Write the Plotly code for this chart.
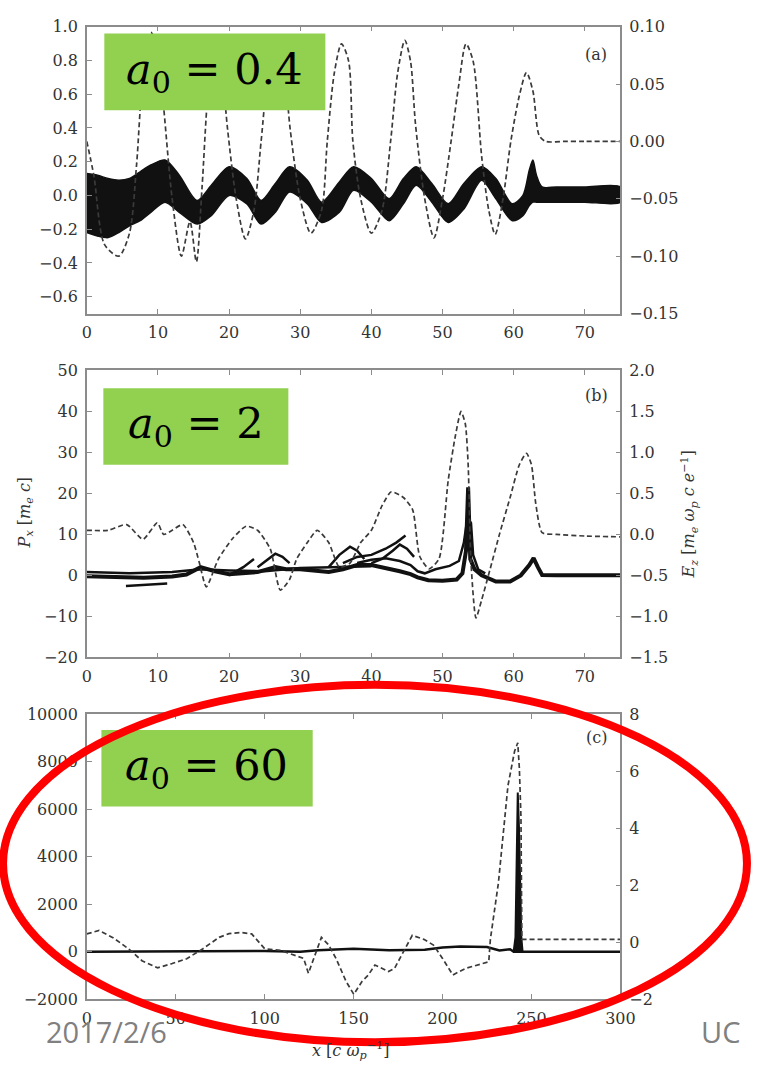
import plotly.graph_objects as go

W, H = 761, 1073

# ---------------- Panel (a): a0 = 0.4 ----------------
a_band_x = [0, 1.5, 3, 4.5, 6, 7.5, 9, 11, 13, 15.5, 17.5, 20, 22.5, 24.5, 26.5, 28.5, 31, 33, 35.5,
            37.5, 40, 42.5, 44.5, 46.3, 48.5, 50.8, 53, 55.5, 57.5, 59.8, 61.3, 62.2, 62.7, 63.2, 64, 66, 70, 75]
a_band_hi = [0.13, 0.12, 0.10, 0.09, 0.10, 0.14, 0.18, 0.21, 0.12, -0.03, 0.06, 0.17, 0.10, -0.03, 0.07,
             0.17, 0.09, -0.04, 0.08, 0.17, 0.10, -0.02, 0.10, 0.17, 0.07, -0.05, 0.07, 0.17, 0.10, -0.05,
             0.0, 0.15, 0.21, 0.12, 0.05, 0.05, 0.05, 0.05]
a_band_lo = [-0.22, -0.24, -0.25, -0.22, -0.18, -0.15, -0.10, -0.04, -0.10, -0.17, -0.12, 0.00, -0.05,
             -0.17, -0.10, 0.02, -0.05, -0.16, -0.10, 0.03, -0.04, -0.15, -0.05, 0.06, -0.04, -0.16, -0.08,
             0.09, -0.02, -0.15, -0.12, -0.06, -0.04, -0.04, -0.04, -0.04, -0.04, -0.04]
a_ez_x = [0, 1, 2.5, 4.5, 6, 7, 7.8, 9, 10, 10.8, 12, 13.3, 14.5, 15.4, 16.2, 17, 18, 19, 19.8, 21, 22.3,
          23.5, 24.5, 25.5, 26.7, 27.8, 28.6, 30, 31.5, 33, 33.8, 34.8, 35.8, 36.8, 37.4, 38.5, 40, 41.5,
          42.7, 43.7, 44.7, 45.5, 46.2, 47.5, 48.8, 50, 51.2, 52.3, 53.3, 54.3, 55.5, 56.5, 57.4, 58.5,
          59.6, 60.8, 61.8, 62.7, 63.6, 64.5, 67, 70, 75]
a_ez_y = [0.0, -0.03, -0.09, -0.10, -0.08, -0.02, 0.05, 0.095, 0.08, 0.03, -0.05, -0.10, -0.07, -0.105,
          -0.04, 0.04, 0.09, 0.06, 0.01, -0.05, -0.085, -0.06, 0.0, 0.06, 0.09, 0.06, 0.01, -0.05, -0.08,
          -0.06, 0.0, 0.06, 0.085, 0.07, 0.0, -0.05, -0.08, -0.06, 0.0, 0.06, 0.088, 0.07, 0.015, -0.05,
          -0.084, -0.05, 0.0, 0.05, 0.085, 0.07, -0.013, -0.06, -0.081, -0.05, 0.0, 0.04, 0.06, 0.044,
          0.005, 0.0, 0.0, 0.0, 0.0]

# ---------------- Panel (b): a0 = 2 ----------------
b_ez_x = [0, 3, 5.6, 7.9, 9.9, 10.8, 12, 13.5, 15, 15.8, 16.8, 18.5, 20.5, 22.4, 24, 25.8, 27.2, 28.5,
          29.5, 31, 32.4, 34, 35.5, 37, 38.5, 40, 41.5, 42.8, 44.5, 45.8, 46.8, 48.1, 49.5, 50.8, 51.8,
          52.6, 53.2, 53.6, 54, 54.7, 55.5, 56.7, 58, 59.5, 60.8, 61.8, 62.5, 63.1, 64, 66, 70, 75]
b_ez_y = [0.05, 0.05, 0.12, -0.06, 0.14, 0.0, 0.05, 0.12, -0.1, -0.34, -0.64, -0.3, -0.05, 0.1, 0.05,
          -0.18, -0.68, -0.55, -0.3, -0.1, 0.05, -0.1, -0.4, -0.35, -0.1, 0.05, 0.35, 0.52, 0.45, 0.3,
          -0.27, -0.42, -0.3, 0.66, 1.2, 1.5, 1.35, 0.86, -0.34, -1.02, -0.8, -0.42, 0.0, 0.45, 0.85, 0.99,
          0.85, 0.38, 0.02, 0.0, -0.02, -0.03]
b_base_x = [0, 4, 8, 12, 14, 16, 18, 20, 22, 24, 26.5, 28, 30, 32, 34, 36, 38, 40, 42, 44, 45.5, 46.5,
            48, 50, 52, 52.8, 53.3, 53.6, 53.9, 54.5, 55.5, 57.5, 59.5, 61, 62.2, 62.8, 63.4, 64, 66, 75]
b_base_y = [-0.2, -0.5, -0.6, -0.3, 0.2, 2.0, 1.0, 0.3, 0.5, 0.8, 2.0, 1.5, 1.5, 1.2, 0.8, 1.5, 2.5,
            2.5, 1.8, 1.0, 0.3, -0.5, -1.2, -1.3, -1.0, 0.5, 6.0, 21.5, 4.0, 1.5, 0.0, -1.5, -1.5, 0.0,
            2.5, 4.2, 2.0, 0.1, 0.0, 0.0]
b_loop_x = [38, 40, 42, 44, 45.5, 46.5, 47.5, 49, 51, 52.3, 53, 53.5, 54, 54.3, 55, 56]
b_loop_y = [3, 3.8, 4.2, 3.5, 2.5, 1.0, 0.5, 1.5, 2.3, 3.5, 8, 14, 12.8, 5, 1.5, 0.5]
b_fan1_x = [36, 38, 40, 42, 43.5, 44.8]
b_fan1_y = [3, 4.5, 5, 6.5, 8, 9.7]
b_fan2_x = [34, 35.5, 37, 38, 39]
b_fan2_y = [2, 5, 7, 6, 4]
b_fan3_x = [40, 41.5, 43, 44, 45, 46]
b_fan3_y = [3, 4, 6, 7.5, 6.5, 4.5]
b_low_x = [5.5, 8, 11.3]
b_low_y = [-2.6, -2.4, -2.0]
b_hump1_x = [20, 22, 23.5]
b_hump1_y = [0, 2, 4]
b_hump2_x = [24, 25.5, 26.5, 27.5, 28.5]
b_hump2_y = [2, 4, 5.3, 4.5, 3]
b_upper_x = [0, 6, 12, 16, 20, 25, 30, 35, 40]
b_upper_y = [0.8, 0.5, 0.8, 1.5, 1.2, 1.0, 1.8, 2.0, 2.2]

# ---------------- Panel (c): a0 = 60 ----------------
c_ez_x = [0, 6.9, 15, 23.4, 31, 39.8, 48, 56.2, 65.3, 74.4, 80, 87.2, 92.7, 100, 109, 116, 121.9, 124.6,
          128, 131.9, 136, 140.1, 145.8, 150.1, 154.7, 158.3, 162, 169.6, 173, 180, 183, 189.5, 194.9,
          200, 205.8, 213, 226, 226.9, 231.4, 236.8, 240.5, 242.3, 243.2, 244.1, 244.6, 250, 260, 280, 300]
c_ez_y = [0.29, 0.41, 0.15, -0.23, -0.65, -0.9, -0.75, -0.58, -0.23, 0.17, 0.3, 0.34, 0.29, -0.23, -0.29,
          -0.45, -0.57, -1.09, -0.5, 0.17, -0.1, -0.57, -1.38, -1.83, -1.38, -1.15, -0.8, -1.03, -0.92,
          -0.1, 0.24, 0.1, -0.1, -0.57, -1.15, -0.92, -0.69, 0.1, 2.07, 5.5, 6.7, 7.0, 6.1, 4.4, 0.1, 0.1,
          0.1, 0.1, 0.1]
c_px_x = [0, 50, 100, 120, 130, 150, 170, 190, 200, 210, 225, 232, 238, 240, 300]
c_px_y = [0, 20, 30, 0, 60, 120, 60, 80, 180, 220, 200, 50, 100, 0, 0]
c_spike_x = [240, 241, 241.6, 242.3, 243, 243.6, 244.3, 245]
c_spike_y = [0, 600, 3400, 6700, 5200, 2500, 600, 0]

# ---------------- layout helpers ----------------
def px(x):
    return x / W


def py(y):
    return 1 - y / H


XDOM = [px(84), px(632)]
DOM_A = [py(310), py(18)]
DOM_B = [py(660), py(368)]
DOM_C = [py(1008), py(718)]

AX_COLOR = "#8c8c8c"
TICKFONT = dict(family="DejaVu Serif", size=16, color="#333333")
DASH_COLOR = "#3a3a3a"
DASH = "5px,3px"

fig = go.Figure()

# Panel a traces
fig.add_trace(go.Scatter(x=a_ez_x, y=a_ez_y, xaxis="x", yaxis="y2", mode="lines",
                         line=dict(color=DASH_COLOR, width=1.7, dash=DASH, shape="spline", smoothing=0.8)))
fig.add_trace(go.Scatter(x=a_band_x + a_band_x[::-1], y=a_band_hi + a_band_lo[::-1],
                         xaxis="x", yaxis="y", mode="lines", fill="toself",
                         fillcolor="#111111", line=dict(color="#111111", width=1.5, shape="spline",
                                                        smoothing=0.8)))

# Panel b traces
fig.add_trace(go.Scatter(x=b_ez_x, y=b_ez_y, xaxis="x2", yaxis="y4", mode="lines",
                         line=dict(color=DASH_COLOR, width=1.7, dash=DASH, shape="spline", smoothing=0.6)))
fig.add_trace(go.Scatter(x=b_base_x, y=b_base_y, xaxis="x2", yaxis="y3", mode="lines",
                         line=dict(color="#111111", width=4)))
for xs, ys in [(b_loop_x, b_loop_y), (b_fan1_x, b_fan1_y), (b_fan2_x, b_fan2_y),
               (b_fan3_x, b_fan3_y), (b_low_x, b_low_y), (b_hump1_x, b_hump1_y),
               (b_hump2_x, b_hump2_y), (b_upper_x, b_upper_y)]:
    fig.add_trace(go.Scatter(x=xs, y=ys, xaxis="x2", yaxis="y3", mode="lines",
                             line=dict(color="#111111", width=2.5)))

# Panel c traces
fig.add_trace(go.Scatter(x=c_ez_x, y=c_ez_y, xaxis="x3", yaxis="y6", mode="lines",
                         line=dict(color=DASH_COLOR, width=1.7, dash=DASH)))
fig.add_trace(go.Scatter(x=c_px_x, y=c_px_y, xaxis="x3", yaxis="y5", mode="lines",
                         line=dict(color="#111111", width=2.5)))
fig.add_trace(go.Scatter(x=c_spike_x, y=c_spike_y, xaxis="x3", yaxis="y5", mode="lines",
                         fill="toself", fillcolor="#111111", line=dict(color="#111111", width=2)))

common = dict(showline=True, linecolor=AX_COLOR, linewidth=1.5, ticks="inside", ticklen=5,
              tickwidth=1, tickcolor=AX_COLOR, showgrid=False, zeroline=False, tickfont=TICKFONT,
              ticklabelstandoff=4)

fig.update_layout(
    width=W, height=H, margin=dict(l=0, r=0, t=0, b=0),
    paper_bgcolor="white", plot_bgcolor="white", showlegend=False,
    xaxis=dict(domain=XDOM, anchor="y", range=[0, 75], tick0=0, dtick=10, mirror="ticks", **common),
    yaxis=dict(domain=DOM_A, anchor="x", range=[-0.7, 1.0], tick0=0, dtick=0.2, tickformat=".1f", **common),
    yaxis2=dict(overlaying="y", anchor="x", side="right", range=[-0.15, 0.10], tick0=0, dtick=0.05,
                tickformat=".2f", **common),
    xaxis2=dict(domain=XDOM, anchor="y3", range=[0, 75], tick0=0, dtick=10, mirror="ticks", **common),
    yaxis3=dict(domain=DOM_B, anchor="x2", range=[-20, 50], tick0=0, dtick=10, **common),
    yaxis4=dict(overlaying="y3", anchor="x2", side="right", range=[-1.5, 2.0], tick0=0, dtick=0.5,
                tickformat=".1f", **common),
    xaxis3=dict(domain=XDOM, anchor="y5", range=[0, 300], tick0=0, dtick=50, mirror="ticks", **common),
    yaxis5=dict(domain=DOM_C, anchor="x3", range=[-2000, 10000], tick0=0, dtick=2000, tickformat="d",
                **common),
    yaxis6=dict(overlaying="y5", anchor="x3", side="right", range=[-2, 8], tick0=0, dtick=2, **common),
)

GREEN = "#92D050"
shapes = []
for (x0, y0, x1, y1) in [(102, 25, 329, 103), (101, 386, 291, 464), (99, 734, 316, 812)]:
    shapes.append(dict(type="rect", xref="paper", yref="paper", x0=px(x0), x1=px(x1), y0=py(y1), y1=py(y0),
                       fillcolor=GREEN, line=dict(width=0), layer="above"))
shapes.append(dict(type="circle", xref="paper", yref="paper", x0=px(-2), x1=px(762), y0=py(1052), y1=py(688),
                   line=dict(color="#FF0000", width=8), layer="above"))
fig.update_layout(shapes=shapes)

ann = []
MATHFONT = dict(family="DejaVu Serif", size=43, color="black")
for (cx, cy, val) in [(215, 64, "0.4"), (196, 425, "2"), (207, 773, "60")]:
    ann.append(dict(xref="paper", yref="paper", x=px(cx), y=py(cy), xanchor="center", yanchor="middle",
                    text="<i>a</i><sub>0</sub> = " + val, showarrow=False, font=MATHFONT))
LBLFONT = dict(family="DejaVu Serif", size=16, color="#333333")
for (cy, lab) in [(46, "(a)"), (393, "(b)"), (742, "(c)")]:
    ann.append(dict(xref="paper", yref="paper", x=px(607), y=py(cy), xanchor="center", yanchor="middle",
                    text=lab, showarrow=False, font=LBLFONT))
TITLEFONT = dict(family="DejaVu Serif", size=16, color="#333333")
ann.append(dict(xref="paper", yref="paper", x=px(21), y=py(512), xanchor="center", yanchor="middle",
                textangle=-90, showarrow=False, font=TITLEFONT,
                text="<i>P<sub>x</sub></i> [<i>m<sub>e</sub> c</i>]"))
ann.append(dict(xref="paper", yref="paper", x=px(703), y=py(515), xanchor="center", yanchor="middle",
                textangle=-90, showarrow=False, font=TITLEFONT,
                text="<i>E<sub>z</sub></i> [<i>m<sub>e</sub> ω<sub>p</sub> c e</i><sup>−1</sup>]"))
ann.append(dict(xref="paper", yref="paper", x=px(355), y=py(1060), xanchor="center", yanchor="middle",
                showarrow=False, font=TITLEFONT,
                text="<i>x</i> [<i>c ω<sub>p</sub></i><sup>−1</sup>]"))
FOOT = dict(family="Open Sans", size=29, color="#808080")
ann.append(dict(xref="paper", yref="paper", x=px(104), y=py(1041), xanchor="center", yanchor="middle",
                showarrow=False, font=FOOT, text="2017/2/6"))
ann.append(dict(xref="paper", yref="paper", x=px(735), y=py(1041), xanchor="center", yanchor="middle",
                showarrow=False, font=FOOT, text="UC"))
fig.update_layout(annotations=ann)

fig.write_html("out.html")
